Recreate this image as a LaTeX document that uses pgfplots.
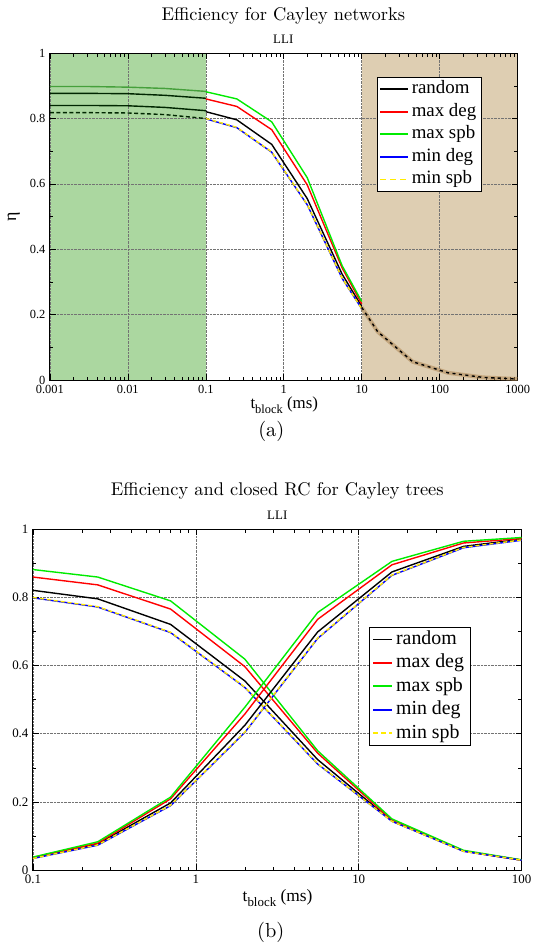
\documentclass[border=0pt]{standalone}
\usepackage{fontspec}
\usepackage{pgfplots}
\usepackage{pgfplotstable}
\pgfplotsset{compat=1.18}
\newfontfamily\tnr{Liberation Serif}
\newfontfamily\lmten{lmroman10-regular.otf}
\definecolor{greg}{RGB}{171,215,160}
\definecolor{brreg}{RGB}{222,206,178}
\definecolor{lgreen}{RGB}{0,235,0}
\definecolor{lred}{RGB}{255,0,0}
\definecolor{lblue}{RGB}{0,0,255}
\definecolor{lyellow}{RGB}{255,235,0}
\definecolor{dkgreen}{RGB}{70,160,60}
\definecolor{halo}{RGB}{175,135,85}

% efficiency, top panel (0.1 .. 10)
\pgfplotstableread{
x rnd maxdeg maxspb mindeg minspb
0.1 0.821 0.860 0.882 0.799 0.800
0.25 0.796 0.837 0.860 0.772 0.773
0.7 0.721 0.766 0.790 0.697 0.698
2 0.555 0.597 0.619 0.536 0.537
5.6 0.324 0.343 0.350 0.311 0.312
10 0.225 0.233 0.240 0.218 0.218
}\effa
% shaded low-t segment, top panel
\pgfplotstableread{
x a b c d
0.001 0.898 0.877 0.840 0.818
0.003 0.898 0.877 0.840 0.818
0.01 0.896 0.876 0.839 0.817
0.03 0.892 0.871 0.834 0.812
0.1 0.883 0.862 0.824 0.800
}\greenseg
% shaded high-t tail, top panel
\pgfplotstableread{
x y
10 0.222
16 0.148
45 0.056
128 0.022
360 0.008
1000 0.003
}\tail
% efficiency, bottom panel
\pgfplotstableread{
x rnd maxdeg maxspb mindeg minspb
0.1 0.821 0.860 0.882 0.799 0.800
0.25 0.796 0.837 0.860 0.772 0.773
0.7 0.721 0.766 0.790 0.697 0.698
2 0.555 0.597 0.619 0.536 0.537
5.6 0.324 0.343 0.350 0.311 0.312
16 0.144 0.146 0.150 0.143 0.143
44 0.056 0.056 0.058 0.055 0.055
100 0.029 0.029 0.030 0.029 0.029
}\effb
% closed RC, bottom panel
\pgfplotstableread{
x rnd maxdeg maxspb mindeg minspb
0.1 0.036 0.037 0.038 0.034 0.034
0.25 0.077 0.079 0.083 0.073 0.074
0.7 0.197 0.209 0.214 0.189 0.190
2 0.425 0.458 0.478 0.404 0.405
5.6 0.699 0.736 0.756 0.680 0.681
16 0.875 0.896 0.906 0.865 0.866
44 0.950 0.960 0.965 0.946 0.947
100 0.971 0.973 0.976 0.968 0.969
}\rcb

\pgfplotsset{
  mystyle/.style={
    scale only axis, anchor=south west, ymin=0, ymax=1,
    set layers,
    ytick={0,0.2,0.4,0.6,0.8,1}, yticklabels={0,0.2,0.4,0.6,0.8,1},
    minor ytick={0.1,0.3,0.5,0.7,0.9},
    grid=major, major grid style={densely dotted, black!55, line width=0.6bp},
    tick style={black, line width=0.6bp}, major tick length=6bp, minor tick length=3.5bp,
    axis line style={line width=0.9bp},
    /pgf/number format/assume math mode=true,
    legend cell align=left,
    yticklabel style={xshift=-1bp},
    xticklabel style={yshift=-1.5bp},
  },
  ln/.style={line width=1.4bp},
}

\begin{document}
\begin{tikzpicture}

% ---------------- top panel ----------------
\begin{semilogxaxis}[mystyle,
  at={(50bp,565bp)}, width=469bp, height=327.7bp,
  xmin=0.001, xmax=1000,
  xtick={0.001,0.01,0.1,1,10,100,1000}, xticklabels={0.001,0.01,0.1,1,10,100,1000},
  minor xtick={0.002,0.003,0.004,0.005,0.006,0.007,0.008,0.009,0.02,0.03,0.04,0.05,0.06,0.07,0.08,0.09,0.2,0.3,0.4,0.5,0.6,0.7,0.8,0.9,2,3,4,5,6,7,8,9,20,30,40,50,60,70,80,90,200,300,400,500,600,700,800,900},
  ticklabel style={font=\tnr\fontsize{12.5}{14}\selectfont},
  xlabel={\tnr t\raisebox{-5bp}{\fontsize{12.5}{14}\selectfont block} (ms)},
  xlabel style={at={(axis description cs:0.501,-0.0864)}, anchor=base, font=\tnr\fontsize{17}{20}\selectfont},
  ylabel={\tnr η},
  ylabel style={at={(axis description cs:-0.077,0.5)}, anchor=center, font=\fontsize{18}{20}\selectfont},
  legend image code/.code={\draw[#1, line width=1.6bp] (0bp,0bp) -- (28bp,0bp);},
  legend style={at={(0.699,0.927)}, anchor=north west, draw=black, line width=0.8bp, fill=white,
    font=\tnr\fontsize{19}{22}\selectfont, inner xsep=2bp, inner ysep=0.5bp,
    nodes={inner xsep=3bp, inner ysep=1.8bp, text height=14bp, text depth=5bp},
    /tikz/every even column/.append style={column sep=3bp}},
]
\addplot[fill=greg, draw=none, on layer=axis background, forget plot] coordinates {(0.001,0) (0.001,1) (0.1,1) (0.1,0)} -- cycle;
\addplot[fill=brreg, draw=none, on layer=axis background, forget plot] coordinates {(10,0) (10,1) (1000,1) (1000,0)} -- cycle;

\addplot[dkgreen, ln, forget plot] table[x=x, y=a]{\greenseg};
\addplot[black!85!green, ln, forget plot] table[x=x, y=b]{\greenseg};
\addplot[black!85!green, ln, forget plot] table[x=x, y=c]{\greenseg};
\addplot[black!85!green, ln, dash pattern=on 4bp off 2.5bp, forget plot] table[x=x, y=d]{\greenseg};

\addplot[black, ln, forget plot] table[x=x, y=rnd]{\effa};
\addplot[lred, ln, forget plot] table[x=x, y=maxdeg]{\effa};
\addplot[lgreen, ln, forget plot] table[x=x, y=maxspb]{\effa};
\addplot[lblue, ln, forget plot] table[x=x, y=mindeg]{\effa};
\addplot[lyellow, ln, dash pattern=on 4bp off 3bp, forget plot] table[x=x, y=minspb]{\effa};

\addplot[halo, opacity=0.55, line width=4bp, forget plot] table[x=x, y=y]{\tail};
\addplot[black, ln, dash pattern=on 3bp off 3.5bp, forget plot] table[x=x, y=y]{\tail};

\addlegendimage{black}
\addlegendentry{random}
\addlegendimage{lred}
\addlegendentry{max deg}
\addlegendimage{lgreen}
\addlegendentry{max spb}
\addlegendimage{lblue}
\addlegendentry{min deg}
\addlegendimage{lyellow, dash pattern=on 6bp off 4bp}
\addlegendentry{min spb}
\end{semilogxaxis}

\node[anchor=base, font=\lmten\fontsize{18.5}{22}\selectfont] at (284bp,925bp) {Efficiency for Cayley networks};
\node[anchor=base, font=\tnr\fontsize{13}{15}\selectfont] at (284bp,902bp) {LLI};
\node[anchor=base, font=\lmten\fontsize{20.5}{24}\selectfont] at (272bp,508bp) {(a)};

% ---------------- bottom panel ----------------
\begin{semilogxaxis}[mystyle,
  at={(33bp,73.7bp)}, width=490bp, height=341.6bp,
  xmin=0.1, xmax=100,
  xtick={0.1,1,10,100}, xticklabels={0.1,1,10,100},
  minor xtick={0.2,0.3,0.4,0.5,0.6,0.7,0.8,0.9,2,3,4,5,6,7,8,9,20,30,40,50,60,70,80,90},
  ticklabel style={font=\tnr\fontsize{13}{15}\selectfont},
  xlabel={\tnr t\raisebox{-5bp}{\fontsize{13}{15}\selectfont block} (ms)},
  xlabel style={at={(axis description cs:0.5006,-0.0937)}, anchor=base, font=\tnr\fontsize{17.5}{20}\selectfont},
  legend image code/.code={\draw[#1, line width=1.6bp] (0bp,0bp) -- (19bp,0bp);},
  legend style={at={(0.688,0.714)}, anchor=north west, draw=black, line width=0.8bp, fill=white,
    font=\tnr\fontsize{20}{23}\selectfont, inner xsep=3bp, inner ysep=0.5bp,
    nodes={inner xsep=3bp, inner ysep=1.6bp, text height=15bp, text depth=5.3bp},
    /tikz/every even column/.append style={column sep=3bp}},
]
\addplot[black, ln, forget plot] table[x=x, y=rnd]{\effb};
\addplot[lred, ln, forget plot] table[x=x, y=maxdeg]{\effb};
\addplot[lgreen, ln, forget plot] table[x=x, y=maxspb]{\effb};
\addplot[lblue, ln, forget plot] table[x=x, y=mindeg]{\effb};
\addplot[lyellow, ln, dash pattern=on 4bp off 3bp, forget plot] table[x=x, y=minspb]{\effb};

\addplot[black, ln, forget plot] table[x=x, y=rnd]{\rcb};
\addplot[lred, ln, forget plot] table[x=x, y=maxdeg]{\rcb};
\addplot[lgreen, ln, forget plot] table[x=x, y=maxspb]{\rcb};
\addplot[lblue, ln, forget plot] table[x=x, y=mindeg]{\rcb};
\addplot[lyellow, ln, dash pattern=on 4bp off 3bp, forget plot] table[x=x, y=minspb]{\rcb};

\addlegendimage{black}
\addlegendentry{random}
\addlegendimage{lred}
\addlegendentry{max deg}
\addlegendimage{lgreen}
\addlegendentry{max spb}
\addlegendimage{lblue}
\addlegendentry{min deg}
\addlegendimage{lyellow, dash pattern=on 5bp off 3bp}
\addlegendentry{min spb}
\end{semilogxaxis}

\node[anchor=base, font=\lmten\fontsize{18.5}{22}\selectfont] at (278bp,449.3bp) {Efficiency and closed RC for Cayley trees};
\node[anchor=base, font=\tnr\fontsize{13}{15}\selectfont] at (278bp,425.3bp) {LLI};
\node[anchor=base, font=\lmten\fontsize{20.5}{24}\selectfont] at (271.5bp,6bp) {(b)};
\path (0,0) rectangle (538bp,946bp);
\end{tikzpicture}
\end{document}
